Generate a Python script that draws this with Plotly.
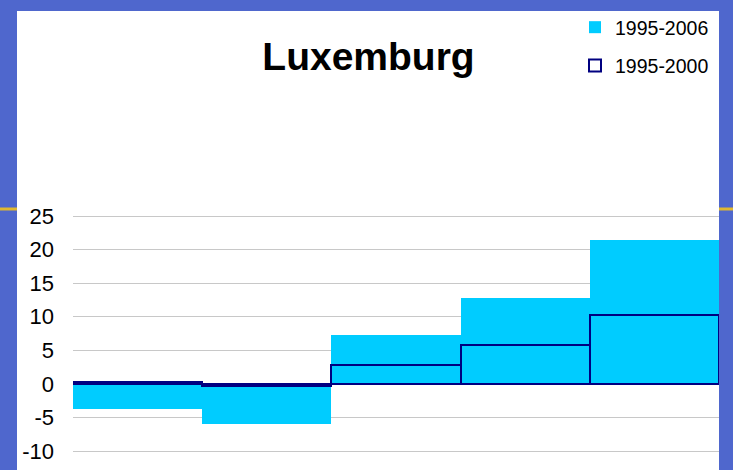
import plotly.graph_objects as go

categories = ["1", "2", "3", "4", "5"]
series_2006 = [-3.7, -5.9, 7.3, 12.8, 21.4]
series_2000 = [0.3, -0.25, 2.8, 5.8, 10.3]
names = ["1995-2006", "1995-2000"]
y_ticks = [25, 20, 15, 10, 5, 0, -5, -10]
y_tick_labels = ["25", "20", "15", "10", "5", "0", "-5", "-10"]

W, H = 733, 470
PL, PR, PT, PB = 73, 719, 215, 470  # plot area in pixels

def px_x(p):
    return (p - PL) / (PR - PL)

def px_y(p):
    return (PB - p) / (PB - PT)

FONT = "Arial, Liberation Sans, sans-serif"
BLUE = "#4F67CD"

fig = go.Figure()
fig.add_trace(go.Bar(
    x=categories, y=series_2006, name=names[0],
    marker=dict(color="#00CCFF", line=dict(width=0)),
    legendgroup="a",
))
fig.add_trace(go.Bar(
    x=categories, y=series_2000, name=names[1],
    marker=dict(color="rgba(0,0,0,0)", line=dict(color="#000080", width=2)),
    legendgroup="b",
))

shapes = [
    dict(type="rect", xref="paper", yref="paper",
         x0=px_x(17), x1=px_x(719), y0=px_y(470), y1=px_y(11),
         fillcolor="white", line=dict(width=0), layer="below"),
    dict(type="line", xref="paper", yref="paper",
         x0=px_x(0), x1=px_x(17), y0=px_y(209), y1=px_y(209),
         line=dict(color="#E0B830", width=3), layer="above"),
    dict(type="line", xref="paper", yref="paper",
         x0=px_x(719), x1=px_x(733), y0=px_y(209), y1=px_y(209),
         line=dict(color="#E0B830", width=3), layer="above"),
]

fig.update_layout(
    width=W, height=H,
    margin=dict(l=PL, r=W - PR, t=PT, b=H - PB, pad=0),
    paper_bgcolor=BLUE,
    plot_bgcolor="white",
    barmode="overlay",
    bargap=0,
    shapes=shapes,
    font=dict(family=FONT, color="black"),
    title=dict(text="Luxemburg", x=368.5 / W, xanchor="center", xref="container",
               y=1 - 56 / H, yanchor="middle", yref="container",
               font=dict(size=39, weight="bold", family=FONT, color="black")),
    showlegend=True,
    legend=dict(x=px_x(575), xanchor="left", y=px_y(8), yanchor="top",
                font=dict(size=19.5, family=FONT, color="black"),
                bgcolor="rgba(0,0,0,0)", tracegroupgap=10,
                itemclick=False, itemdoubleclick=False),
    xaxis=dict(showticklabels=False, showgrid=False, zeroline=False,
               showline=False, ticks="", fixedrange=True),
    yaxis=dict(range=[-12.82, 25.156], tickvals=y_ticks, ticktext=y_tick_labels,
               showgrid=True, gridcolor="#C8C8C8", gridwidth=1,
               zeroline=False, showline=False, ticks="",
               ticklabelstandoff=18,
               tickfont=dict(size=22, family=FONT, color="black"),
               fixedrange=True),
)

fig.write_html("out.html", config={"displayModeBar": False},
               post_script="document.body.style.margin='0px';document.body.style.overflow='hidden';")
